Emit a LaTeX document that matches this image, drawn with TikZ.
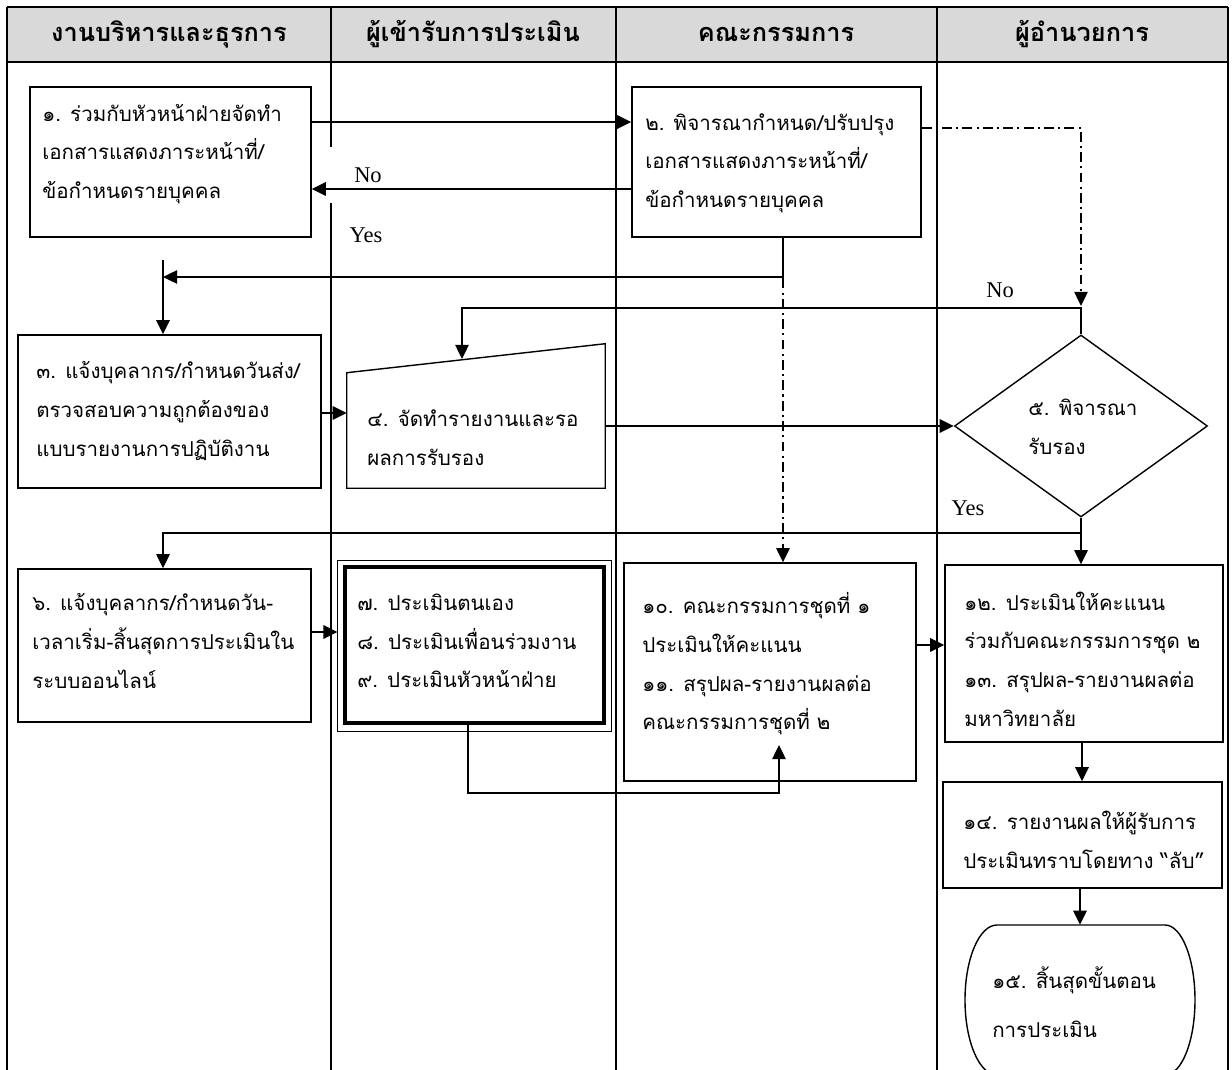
\documentclass[tikz,border=0pt]{standalone}
\usepackage{fontspec}
\setmainfont{Liberation Serif}
\newfontfamily\thaifont[Script=Thai]{Loma}
\usetikzlibrary{arrows.meta,shapes.geometric,fit}
\newcommand{\pxu}{0.025cm}

\begin{document}
\begin{tikzpicture}[x=0.025cm, y=0.025cm,
	boxline/.style={draw, line width=1pt},
	box/.style={boxline, inner sep=0pt},
	txt/.style={anchor=west, align=left, inner sep=0pt, font=\thaifont\fontsize{14.6}{27.5}\selectfont},
	head/.style={font=\thaifont\bfseries\fontsize{18}{20}\selectfont},
	lbl/.style={font=\fontsize{16}{18}\selectfont},
	arr/.style={line width=1.4pt, -{Triangle[length=10pt,width=9.5pt]}},
	thinarr/.style={line width=1pt, -{Triangle[length=10pt,width=9.5pt]}},
	flowdash/.style={line width=1pt, dash pattern=on 7pt off 3pt on 1.5pt off 3pt}]

	\clip (0,0) rectangle (1232,-1070);

	% lanes
	\fill[gray!30] (7,-7) rectangle (1228,-62);
	\draw[line width=1.4pt] (7,-7) -- (1228,-7) (7,-62) -- (1228,-62);
	\foreach \x in {7,331,616,937,1228}{
		\draw[line width=1.4pt] (\x,-7) -- (\x,-1075);
	}
	\node[head] (h1) at (169,-34) {งานบริหารและธุรการ};
	\node[head] (h2) at (473,-34) {ผู้เข้ารับการประเมิน};
	\node[head] (h3) at (776,-34) {คณะกรรมการ};
	\node[head] (h4) at (1082,-34) {ผู้อำนวยการ};

	\node[lbl, fill=white, minimum width=90*\pxu, minimum height=56*\pxu] (no1) at (368,-175) {No};
	\node[lbl] (yes1) at (366,-235) {Yes};
	\node[lbl] (no2) at (1000,-290) {No};
	\node[lbl] (yes2) at (968,-508) {Yes};

	% steps
	\node[box, fit={(30,-87) (311,-237)}] (b1) {};
	\node[txt] (t1) at (42,-154) {๑. ร่วมกับหัวหน้าฝ่ายจัดทำ\\เอกสารแสดงภาระหน้าที่/\\ข้อกำหนดรายบุคคล};

	\node[box, fit={(632,-87) (921,-237)}] (b2) {};
	\node[txt] (t2) at (645,-163) {๒. พิจารณากำหนด/ปรับปรุง\\เอกสารแสดงภาระหน้าที่/\\ข้อกำหนดรายบุคคล};

	\node[box, fit={(18,-335) (321,-488)}] (b3) {};
	\node[txt] (t3) at (36,-411) {๓. แจ้งบุคลากร/กำหนดวันส่ง/\\ตรวจสอบความถูกต้องของ\\แบบรายงานการปฏิบัติงาน};

	\node[inner sep=0pt, fit={(347,-344) (605,-488)}] (b4) {};
	\draw[boxline] ([yshift=-29*\pxu]b4.north west) -- (b4.north east) -- (b4.south east) -- (b4.south west) -- cycle;
	\node[txt] (t4) at (367,-438) {๔. จัดทำรายงานและรอ\\ผลการรับรอง};
	\coordinate (b4in) at (462,-359);

	\node[diamond, boxline, inner sep=0pt, minimum width=253*\pxu, minimum height=182*\pxu] (d5) at (1081,-426) {};
	\node[txt] (t5) at (1028,-427) {๕. พิจารณา\\รับรอง};

	\node[box, fit={(18,-569) (311,-722)}] (b6) {};
	\node[txt] (t6) at (32,-641) {๖. แจ้งบุคลากร/กำหนดวัน-\\เวลาเริ่ม-สิ้นสุดการประเมินใน\\ระบบออนไลน์};

	\node[box, line width=2.2pt, fit={(345,-567) (604,-723)}] (b7) {};
	\draw[line width=1pt] ([shift={(-6,5)}]b7.north west) rectangle ([shift={(6,-7)}]b7.south east);
	\coordinate (b7w) at ([xshift=-6*\pxu]b7.west);
	\node[txt] (t7) at (357,-641) {๗. ประเมินตนเอง\\๘. ประเมินเพื่อนร่วมงาน\\๙. ประเมินหัวหน้าฝ่าย};

	\node[box, fit={(624,-563) (916,-781)}] (b10) {};
	\node[txt] (t10) at (642,-664) {๑๐. คณะกรรมการชุดที่ ๑\\ประเมินให้คะแนน\\๑๑. สรุปผล-รายงานผลต่อ\\คณะกรรมการชุดที่ ๒};
	\coordinate (b10in) at (779,-745);

	\node[box, fit={(945,-565) (1223,-742)}] (b12) {};
	\node[txt] (t12) at (964,-659) {๑๒. ประเมินให้คะแนน\\ร่วมกับคณะกรรมการชุด ๒\\๑๓. สรุปผล-รายงานผลต่อ\\มหาวิทยาลัย};

	\node[box, fit={(943,-782) (1222,-888)}] (b14) {};
	\node[txt] (t14) at (963,-840) {๑๔. รายงานผลให้ผู้รับการ\\ประเมินทราบโดยทาง “ลับ”};

	\node[inner sep=0pt, fit={(965,-925) (1195,-1075)}] (b15) {};
	\draw[boxline] (997,-925) -- (1165,-925) arc[start angle=90, end angle=-90, x radius=30, y radius=75]
		-- (997,-1075) arc[start angle=270, end angle=90, x radius=32, y radius=75];
	\node[txt, font=\thaifont\fontsize{14.6}{35}\selectfont] (t15) at (992,-1002) {๑๕. สิ้นสุดขั้นตอน\\การประเมิน};

	% connectors
	\draw[arr] (b1.east |- 0,-122) -- (b2.west |- 0,-122);
	\draw[arr] (b2.west |- 0,-189) -- (b1.east |- 0,-189);
	\draw[thinarr] (b2.south -| 783,0) -- (783,-277) -- (163,-277);
	\draw[arr] (163,-260) -- (b3.north -| 163,0);
	\draw[flowdash, -{Triangle[length=10pt,width=9.5pt]}] (b2.east |- 0,-128) -- (1081,-128) -- (1081,-306);
	\draw[flowdash, -{Triangle[length=10pt,width=9.5pt]}] (b2.south -| 783,0) -- (b10.north -| 783,0);
	\draw[thinarr] (d5.north) -- (1081,-308) -- (462,-308) -- (b4in);
	\draw[arr] (b3.east |- 0,-413) -- (b4.west |- 0,-413);
	\draw[arr] (b4.east |- 0,-426) -- (d5.west);
	\draw[thinarr] (d5.south) -- (d5.south |- b12.north);
	\draw[thinarr] (1081,-533) -- (163,-533) -- (b6.north -| 163,0);
	\draw[arr] (b6.east |- 0,-632) -- (b7w |- 0,-632);
	\draw[thinarr] (b7.south -| 468,0) -- (468,-793) -- (779,-793) -- (b10in);
	\draw[arr] (b10.east |- 0,-645) -- (b12.west |- 0,-645);
	\draw[arr] (b12.south -| 1082,0) -- (b14.north -| 1082,0);
	\draw[arr] (b14.south -| 1080,0) -- (b15.north -| 1080,0);
\end{tikzpicture}
\end{document}
